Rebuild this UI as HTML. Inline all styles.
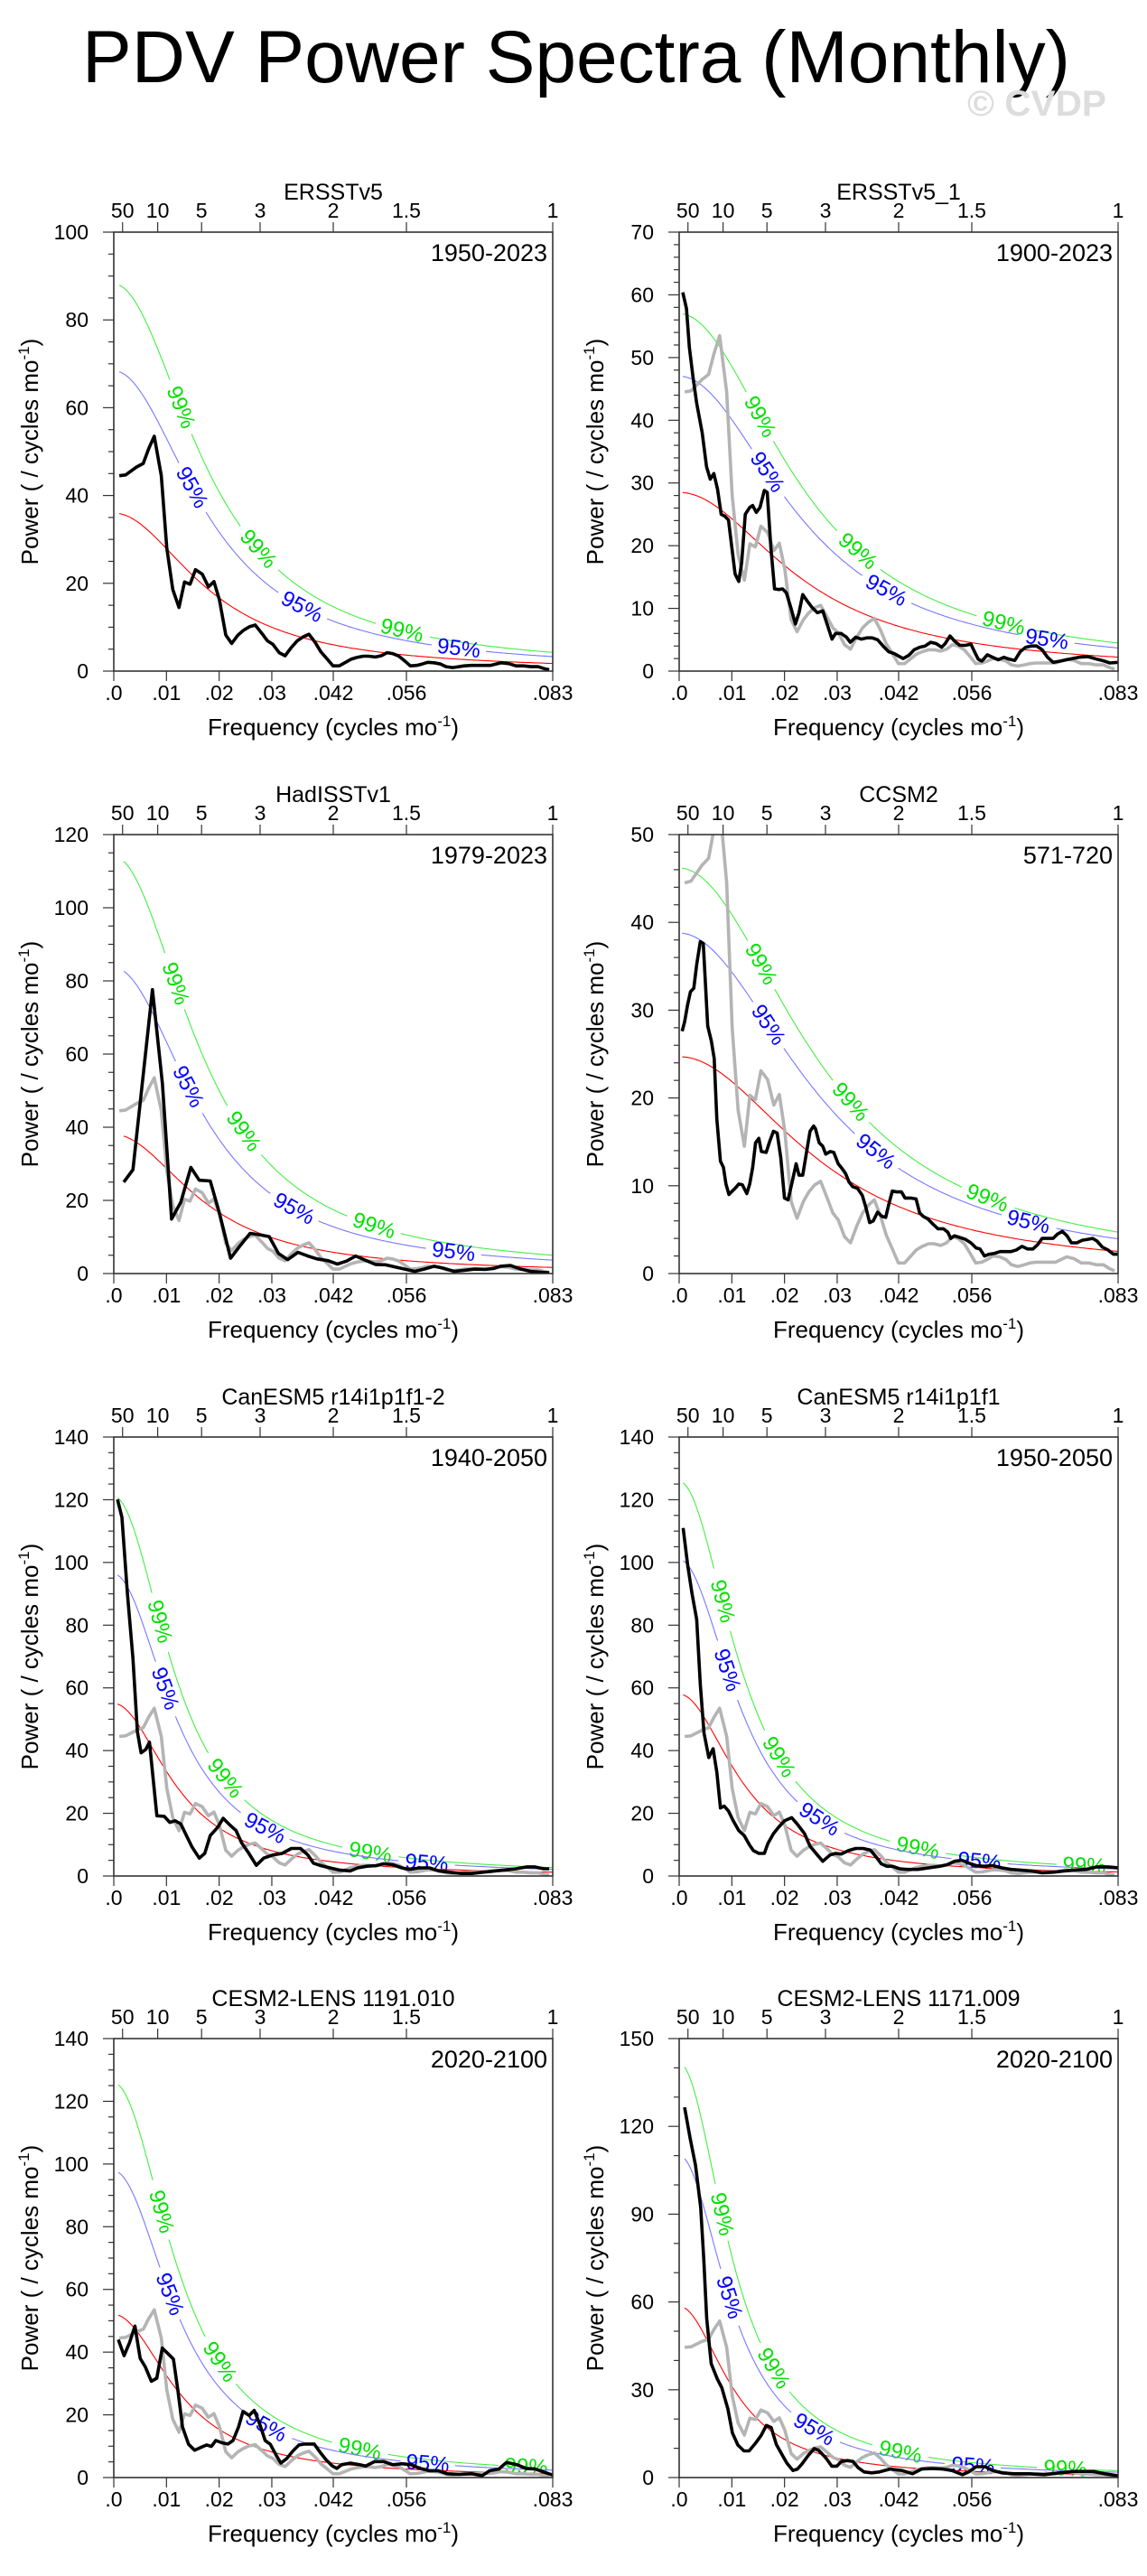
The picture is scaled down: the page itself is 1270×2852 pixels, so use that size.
<!DOCTYPE html>
<html><head><meta charset="utf-8"><title>PDV Power Spectra (Monthly)</title>
<style>html,body{margin:0;padding:0;background:#fff}svg{display:block}text{font-family:"Liberation Sans",Arial,sans-serif}</style>
</head><body>
<svg id="fig" xmlns="http://www.w3.org/2000/svg" width="1270" height="2852" viewBox="0 0 1270 2852">
<rect x="0" y="0" width="1270" height="2852" fill="#fff"/>
<text x="638" y="91" font-size="82" text-anchor="middle" textLength="1094" lengthAdjust="spacingAndGlyphs">PDV Power Spectra (Monthly)</text>
<text x="1225" y="128" font-size="40" font-weight="bold" fill="#dddddd" text-anchor="end" textLength="154" lengthAdjust="spacingAndGlyphs">© CVDP</text>
</svg>
<script>
// ---- data (frequency in 1e-3 cycles/mo, power) ----
const p1Freq=[1.05,2.24,4.34,5.59,6.64,7.69,9.02,10.07,11.19,12.38,13.43,14.48,15.52,16.78,17.97,19.02,20.07,21.26,22.38,23.57,24.62,25.73,26.85,28.11,29.16,30.21,31.40,32.52,33.71,34.83,35.94,37.06,38.25,39.30,40.56,41.61,42.80,43.85,45.03,46.15,47.34,48.39,49.65,50.77,51.89,52.94,54.13,55.24,56.29,57.48,58.53,59.58,60.84,62.03,63.08,64.34,65.52,66.57,67.83,69.37,71.47,73.57,74.97,76.36,77.76,79.16,80.56,81.61,82.66];
const p1Power=[44.5,44.7,46.5,47.3,50.7,53.5,44.5,28,18.6,14.5,20.3,19.8,23.1,22.1,19.2,20.4,16.2,8.2,6.3,8.2,9.3,10.1,10.5,8.6,6.9,6.1,4.2,3.5,5.4,6.9,7.8,8.4,6.5,4.4,2.7,1.2,1.2,1.9,2.7,3.1,3.4,3.4,3.2,3.5,4.2,4.0,3.4,2.3,1.2,1.3,1.6,2.0,1.9,1.6,1.0,0.8,1.0,1.2,1.3,1.3,1.3,1.9,1.7,1.2,1.2,1.0,1.0,0.6,0.3];
const p2Freq=[0.69,1.39,1.94,2.64,3.33,4.37,5.20,5.90,6.59,7.29,7.98,8.67,9.37,9.92,10.62,11.31,11.87,12.56,13.39,13.95,14.64,15.34,16.17,16.72,17.42,18.11,18.95,19.64,20.33,21.17,22.07,22.76,23.46,24.36,25.19,26.23,27.27,27.97,29.01,29.70,30.74,31.78,32.48,33.52,34.56,35.60,36.64,37.68,38.72,39.76,40.81,41.85,42.54,43.58,44.62,45.66,46.70,47.74,48.79,49.83,50.52,51.42,52.26,53.30,54.34,55.38,56.07,56.77,57.46,58.50,59.54,60.58,61.62,62.66,63.71,64.75,65.79,66.83,67.87,68.91,69.95,71.00,72.39,74.12,75.85,77.59,79.32,80.71,81.75,83.35];
const p2Power=[60.4,57.8,51.6,46.8,42.7,38,32.6,30.6,31.5,29,25,24.7,24.1,20.2,15.5,14.3,17.3,25,26.1,26.4,25.3,26.1,28.8,28.5,19.6,13.1,13,13.1,12.5,10.2,7.5,9.3,12.2,11.1,10.2,9.3,9.6,7.8,5.1,6,6,5.4,4.6,5.4,5.1,5.3,5.3,5.0,4,3.1,2.8,2.3,2.0,2.5,3.4,3.8,4.0,4.6,4.4,3.8,4.4,5.6,4.8,4.1,4.1,4.3,3.1,1.9,1.6,2.6,2.2,1.8,2.2,1.9,1.7,3.1,3.8,4.0,4.0,3.4,2.2,1.4,1.6,1.9,2.2,2.3,1.9,1.6,1.3,1.4];
const p3Freq=[1.89,3.64,7.34,9.23,10.98,12.73,14.62,16.22,18.32,20.07,22.17,23.92,25.87,27.76,29.51,31.26,33.01,34.97,36.85,38.60,40.70,42.45,44.20,45.94,47.69,49.65,51.54,53.43,55.24,57.13,58.88,60.84,62.73,64.62,66.57,68.53,70.42,72.17,73.43,75.31,77.06,79.16,80.91,82.66];
const p3Power=[25,28.4,77.6,52,14.9,19.5,29,25.5,25.3,16.5,4.2,7.5,11,10.6,10.1,5.5,3.8,5.8,4.8,4.0,3.5,2.6,3.4,4.8,3.7,2.5,2.4,1.8,1.2,0.6,1.2,2.0,1.4,0.6,0.9,1.2,1.1,1.4,2.0,2.2,1.3,0.6,0.4,0.2];
const p4Freq=[0.56,1.04,1.60,2.15,2.78,3.33,4.02,4.58,5.41,6.11,6.66,7.15,7.84,8.40,8.88,9.44,9.92,10.62,11.31,12.01,12.84,13.39,13.95,14.50,15.13,15.61,16.52,17.21,17.90,18.60,19.29,19.99,20.68,21.37,22.21,22.76,23.46,24.84,25.54,25.88,26.58,27.27,27.83,28.66,29.35,30.19,30.88,31.58,32.27,32.96,33.87,34.77,35.46,36.16,36.85,37.68,38.51,39.21,39.76,40.46,41.29,42.19,42.89,43.93,44.97,45.66,46.36,47.26,48.23,49.13,50.17,51.01,51.56,52.26,53.30,54.34,55.38,56.42,57.11,57.95,58.85,59.89,60.93,61.97,63.01,64.05,65.09,66.13,67.17,68.08,68.91,69.95,70.99,71.83,72.73,73.63,74.46,75.50,76.54,77.59,78.49,79.32,80.36,81.40,82.44,83.35];
const p4Power=[27.6,28.7,30.6,32.1,32.5,35.2,37.8,37.6,28.2,26.5,24.5,17.6,12.8,12.1,10.2,9.0,9.3,9.7,10.2,10.1,9.1,10.2,12.1,14.9,15.4,13.9,13.8,15.1,16.2,16.0,13.2,8.6,8.4,10.2,12.5,11.2,11.2,16.2,16.8,16.5,14.9,14.5,13.6,13.9,13.8,12.5,12.0,11.4,10.4,9.9,9.7,8.9,7.5,5.8,6.0,7.0,6.5,6.4,7.8,9.4,9.3,9.3,8.6,8.6,8.5,6.9,6.5,6.2,5.6,5.1,5.1,4.7,4.0,4.3,4.1,3.9,3.5,2.9,2.8,2.0,2.2,2.3,2.5,2.5,2.5,2.7,3.1,2.8,2.8,3.3,4.0,4.0,4.0,4.5,4.8,4.3,3.5,3.5,3.8,3.9,4.0,3.7,3.0,2.7,2.2,2.2];
const p5Freq=[0.70,1.54,2.59,3.64,4.48,5.17,6.08,6.78,8.18,9.58,10.63,11.68,12.73,13.78,14.83,16.22,17.27,18.32,19.72,20.77,21.82,23.22,24.27,25.66,27.06,28.46,30.21,31.96,33.71,35.45,36.85,37.90,39.30,41.05,42.80,44.90,46.29,48.04,49.79,51.19,52.94,54.69,56.08,58.18,59.93,61.68,63.78,65.87,67.97,70.07,72.17,74.27,76.36,78.46,79.86,81.61,82.66];
const p5Power=[120.1,114.4,90,69.4,46.1,39.3,40.4,42.7,19.2,19,17.1,17.6,16.6,12.9,9.3,5.7,7.2,12.9,15.5,18.4,16.6,14.5,10.6,7.2,3.4,5.7,6.7,7.2,8.8,8.8,6.7,4.1,3.3,2.6,1.9,1.6,2.6,3.1,3.3,3.9,3.6,2.6,2.1,2.6,2.6,1.6,1.2,0.8,0.8,1.2,1.6,1.9,2.3,2.9,2.9,2.3,2.3];
const p6Freq=[0.76,1.60,2.43,3.33,4.02,4.72,5.62,6.45,7.15,7.84,8.54,9.37,10.27,11.31,12.35,13.39,14.09,15.13,16.17,16.86,17.90,18.95,19.99,21.37,22.41,23.80,24.84,26.23,27.27,28.66,29.70,30.74,32.13,33.52,34.91,36.29,37.34,38.38,39.42,40.46,41.85,43.23,45.32,47.40,49.48,50.87,52.26,53.64,55.03,56.42,57.81,59.54,61.28,63.01,64.75,66.83,68.91,70.99,73.07,75.16,77.24,79.32,81.40,83.35];
const p6Power=[111,99.4,90.1,81.8,61.1,45.6,37.8,40.6,33.1,21.7,22.3,20.7,17.6,14.5,12.9,9.8,8.1,7.2,7.2,10.4,13.5,15.7,17.6,18.6,16.6,13.5,9.5,6.7,4.7,6.7,7.2,7.0,8.1,8.8,8.8,8.3,6.2,3.9,3.1,3.1,2.3,2.1,2.1,2.6,3.1,3.6,4.7,5.0,4.1,3.3,3.1,3.3,2.6,2.1,1.9,1.6,1.0,1.2,1.6,1.9,2.1,2.9,2.9,2.6];
const p7Freq=[0.86,1.95,2.99,4.02,5.00,5.98,7.13,8.16,9.20,10.17,11.32,12.18,13.05,14.20,15.34,16.49,17.64,18.51,19.37,20.52,21.67,22.64,23.68,24.54,25.69,26.67,27.70,28.74,29.71,30.86,31.72,32.87,34.02,35.17,36.32,38.05,39.20,40.34,41.49,42.36,43.22,44.94,46.67,47.82,49.54,51.26,52.99,54.71,56.44,58.16,59.89,61.61,63.33,65.63,67.93,69.94,71.38,73.10,74.54,76.55,78.28,80.00,81.72,83.28];
const p7Power=[44,38.9,43,48.3,38,35.3,30.7,31.7,41.3,39.7,37.8,27.7,16.1,10.6,8.7,9.6,10.4,9.9,11.8,11.1,10.7,11.8,16.1,21.1,19.8,21.4,17.1,11.8,10.6,7.0,4.6,6.1,8.5,10.4,10.7,10.7,8.0,5.6,3.7,2.9,4.1,4.6,4.1,3.7,5.1,5.1,4.1,4.4,4.1,2.9,2.2,2.2,1.2,1.0,1.2,0.6,2.2,2.7,4.8,4.1,2.9,2.7,1.7,0.8];
const p8Freq=[1.03,2.07,3.10,4.08,4.66,5.23,5.80,6.09,7.24,8.10,9.25,10.11,11.15,12.30,13.28,14.43,15.57,16.55,17.47,18.45,19.48,20.46,21.61,22.47,23.33,24.48,25.63,26.49,27.82,28.97,29.94,30.80,31.95,32.99,33.97,35.11,36.55,37.99,40.00,42.30,44.31,46.03,48.05,50.06,51.78,53.79,54.94,56.38,58.10,59.54,61.26,63.56,66.44,69.31,72.18,75.06,78.51,80.80,83.33];
const p8Power=[126.5,116,106.7,92.4,74.9,54.3,44,38.9,33.7,30.7,23.5,15.2,11.1,9.1,9.1,11.6,14.4,17.8,17.1,11.3,8.0,4.9,2.4,2.9,4.7,7.5,9.9,9.3,6.8,3.9,3.9,5.5,5.8,5.5,3.4,1.9,1.6,1.9,2.9,2.4,1.3,2.9,3.1,2.9,2.4,1.0,1.9,3.7,3.7,2.4,1.6,1.3,1.3,1.0,1.6,2.1,2.1,1.3,0.6];

const panelTitles=["ERSSTv5","ERSSTv5_1","HadISSTv1","CCSM2","CanESM5 r14i1p1f1-2","CanESM5 r14i1p1f1","CESM2-LENS 1191.010","CESM2-LENS 1171.009"];
const panelPeriods=["1950-2023","1900-2023","1979-2023","571-720","1940-2050","1950-2050","2020-2100","2020-2100"];
const yMaxes=[100,70,120,50,140,140,140,150];
const yMajorStep=[20,10,20,10,20,20,20,30];
const yMinorStep=[5,2,5,2,5,5,5,10];
const redPeak=[36,28.5,38,24.7,55,58,52,58.5];
const redLag=[0.89,0.86,0.895,0.84,0.925,0.925,0.922,0.935];
const sig99Factor=[2.45,2.0,3.0,1.87,2.2,2.17,2.42,2.42];
const sig95Factor=[1.9,1.65,2.2,1.57,1.75,1.74,1.88,1.88];
const label99Freq=[[12.7,27.4,54.7],[15.3,33.9,61.6],[11.7,24.6,49.4],[15.5,32.5,58.5],[8.7,21.1,48.7],[8.2,18.9,45.3,76.9],[9.0,20.1,46.7,78.3],[8.1,17.9,42.0,73.3]];
const label95Freq=[[14.8,35.7,65.5],[16.7,39.3,69.8],[14.1,34.2,64.5],[16.9,37.3,66.3],[9.7,28.7,59.4],[9.1,26.6,57.0],[10.6,28.9,59.6],[9.5,25.6,55.8]];
const xTickValues=[0,0.01,0.02,0.03,1/24,1/18,1/12];
const xTickLabels=[".0",".01",".02",".03",".042",".056",".083"];
const topPeriodYears=[50,10,5,3,2,1.5,1];
const topPeriodLabels=["50","10","5","3","2","1.5","1"];

const seriesFreq=[p1Freq,p2Freq,p3Freq,p4Freq,p5Freq,p6Freq,p7Freq,p8Freq];
const seriesPower=[p1Power,p2Power,p3Power,p4Power,p5Power,p6Power,p7Power,p8Power];

// ---- layout ----
const NS="http://www.w3.org/2000/svg";
const svg=document.getElementById('fig');
const colLeft=[126,752], rowTop=[257,924,1591,2257], PW=486, PH=486, FMAX=1/12;
function mk(tag,attrs,parent,txt){const e=document.createElementNS(NS,tag);for(const k in attrs)e.setAttribute(k,attrs[k]);if(txt!==undefined)e.textContent=txt;(parent||svg).appendChild(e);return e;}

for(let p=0;p<8;p++){
  const L=colLeft[p%2], T=rowTop[Math.floor(p/2)], B=T+PH, R=L+PW, ymax=yMaxes[p];
  const X=f=>L+f/FMAX*PW;
  const Y=v=>B-v/ymax*PH;
  const g=mk('g',{});
  
  
  const cp=mk('clipPath',{id:'clip'+p},g);
  mk('rect',{x:L,y:T,width:PW,height:PH},cp);

  const fStart=seriesFreq[p][0]/1000, r=redLag[p];
  const red=f=>redPeak[p]*(1-r)*(1-r)/(1+r*r-2*r*Math.cos(2*Math.PI*f));
  const samples=[];for(let i=0;i<=240;i++){samples.push(fStart+(FMAX-fStart)*i/240);}
  function curve(fac,color,labs,labColor,name){
    const pts=samples.map(f=>[X(f),Y(red(f)*fac)]);
    const centers=[];
    (labs||[]).forEach(lf=>{const f=lf/1000;const x=X(f),y=Y(red(f)*fac);const x2=X(f+0.0005),y2=Y(red(f+0.0005)*fac);centers.push([x,y,Math.atan2(y2-y,x2-x)*180/Math.PI]);});
    let d='',pen=false;
    pts.forEach(pt=>{const hide=centers.some(c=>Math.hypot(pt[0]-c[0],pt[1]-c[1])<30);if(hide){pen=false;return;}d+=(pen?'L':'M')+pt[0].toFixed(1)+','+pt[1].toFixed(1);pen=true;});
    const path=mk('path',{d:d,fill:'none',stroke:color,'stroke-width':1.1,'clip-path':'url(#clip'+p+')'},g);
    
    
    centers.forEach(c=>{
      const t=mk('text',{x:c[0],y:c[1],'font-size':24,fill:labColor,'text-anchor':'middle','dominant-baseline':'central',transform:'rotate('+c[2].toFixed(1)+' '+c[0].toFixed(1)+' '+c[1].toFixed(1)+')'},g,name==='sig99'?'99%':'95%');
      
      
    });
  }
  curve(sig99Factor[p],'#44ee44',label99Freq[p],'#00e000','sig99');
  curve(sig95Factor[p],'#7777ff',label95Freq[p],'#0000ff','sig95');
  curve(1,'#ff0000',null,null,'red-noise');

  function line(fr,pw,color,name){
    const d=fr.map((f,i)=>(i?'L':'M')+X(f/1000).toFixed(1)+','+Y(pw[i]).toFixed(1)).join('');
    const pl=mk('path',{d:d,fill:'none',stroke:color,'stroke-width':3.6,'stroke-linejoin':'round','clip-path':'url(#clip'+p+')'},g);
    
    
  }
  if(p>0) line(p1Freq,p1Power,'#b4b4b4','reference-spectrum-line');
  line(seriesFreq[p],seriesPower[p],'#000000','spectrum-line');

  const fr=mk('rect',{x:L,y:T,width:PW,height:PH,fill:'none',stroke:'#333','stroke-width':1.6},g);
  
  

  for(let v=0;v<=ymax+1e-9;v+=yMinorStep[p]){
    const major=Math.abs(v/yMajorStep[p]-Math.round(v/yMajorStep[p]))<1e-6;
    const tk=mk('line',{x1:L,x2:L-(major?12:6),y1:Y(v),y2:Y(v),stroke:'#333','stroke-width':1.2},g);
    
    
    if(major){
      const tl=mk('text',{x:L-28,y:Y(v)+8,'font-size':23,'text-anchor':'end'},g,String(Math.round(v)));
      
      
    }
  }
  xTickValues.forEach((f,i)=>{
    const tk=mk('line',{x1:X(f),x2:X(f),y1:B,y2:B+11,stroke:'#333','stroke-width':1.2},g);
    
    
    const tl=mk('text',{x:X(f),y:B+32,'font-size':23,'text-anchor':'middle'},g,xTickLabels[i]);
    
    
  });
  topPeriodYears.forEach((yr,i)=>{
    const f=1/(12*yr);
    const tk=mk('line',{x1:X(f),x2:X(f),y1:T,y2:T-11,stroke:'#333','stroke-width':1.2},g);
    
    
    const tl=mk('text',{x:X(f),y:T-16,'font-size':23,'text-anchor':'middle'},g,topPeriodLabels[i]);
    
    
  });
  const tt=mk('text',{x:L+PW/2,y:T-36,'font-size':25,'text-anchor':'middle'},g,panelTitles[p]);
  
  
  const pr=mk('text',{x:R-6,y:T+32,'font-size':27,'text-anchor':'end'},g,panelPeriods[p]);
  
  
  const xt=mk('text',{x:L+PW/2,y:B+71,'font-size':26,'text-anchor':'middle'},g);
  
  
  mk('tspan',{},xt,'Frequency (cycles mo');
  mk('tspan',{dy:-10,'font-size':17},xt,'-1');
  mk('tspan',{dy:10},xt,')');
  const yt=mk('text',{x:0,y:0,'font-size':26,'text-anchor':'middle',transform:'translate('+(L-84)+','+(T+PH/2)+') rotate(-90)'},g);
  
  
  mk('tspan',{},yt,'Power ( / cycles mo');
  mk('tspan',{dy:-10,'font-size':17},yt,'-1');
  mk('tspan',{dy:10},yt,')');
}
</script>
</body></html>
